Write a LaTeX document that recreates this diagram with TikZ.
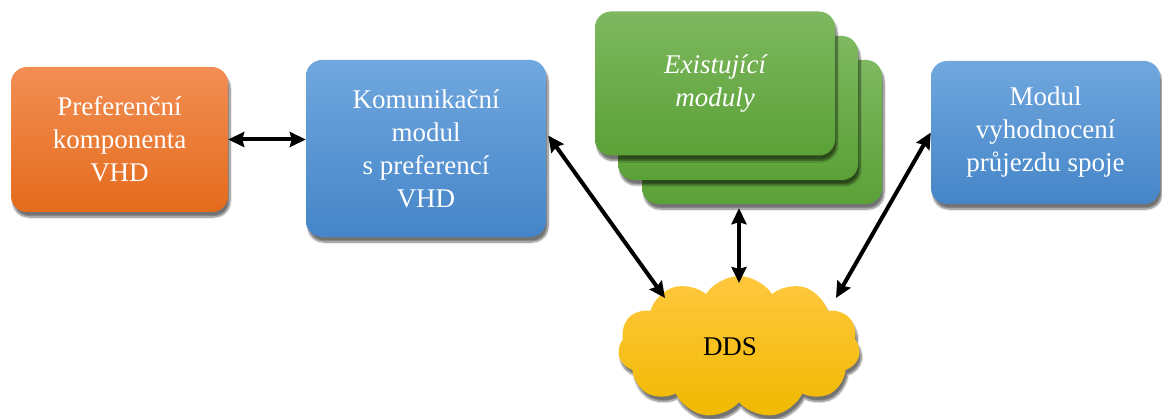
\documentclass[tikz,border=0pt]{standalone}
\usepackage{fontspec}
\setmainfont{Liberation Serif}
\usetikzlibrary{shapes.symbols,shadows.blur,arrows.meta}

\definecolor{orTop}{HTML}{F28E54}
\definecolor{orBot}{HTML}{E46B1C}
\definecolor{blTop}{HTML}{70A7DE}
\definecolor{blBot}{HTML}{4585C8}
\definecolor{grTop}{HTML}{7EB860}
\definecolor{grBot}{HTML}{5BA137}
\definecolor{ylTop}{HTML}{FFC83E}
\definecolor{ylBot}{HTML}{F0B900}

\begin{document}
\begin{tikzpicture}[x=1pt,y=-1pt,
  modbox/.style={rounded corners=16pt, inner sep=0pt, align=center,
    text=white, font=\fontsize{27}{33}\selectfont,
    blur shadow={shadow xshift=2pt, shadow yshift=-5pt, shadow blur steps=10, shadow opacity=55}},
  orangebox/.style={modbox, top color=orTop, bottom color=orBot},
  bluebox/.style={modbox, top color=blTop, bottom color=blBot},
  greenbox/.style={modbox, top color=grTop, bottom color=grBot, minimum width=240pt, minimum height=144pt},
  link/.style={line width=4pt, {Stealth[length=16pt,width=15pt,inset=2pt]}-{Stealth[length=16pt,width=15pt,inset=2pt]}}
]
\useasboundingbox (0,0) rectangle (1162,419);

% modules
\node[orangebox, minimum width=217pt, minimum height=145pt] (pref) at (119.5,139.5)
  {Preferenční\\komponenta\\VHD};
\node[bluebox, minimum width=240pt, minimum height=177pt] (kom) at (426,148.5)
  {Komunikační\\modul\\s preferencí\\VHD};
\node[bluebox, minimum width=229pt, minimum height=143pt] (mod) at (1045.5,132.5)
  {Modul\\vyhodnocení\\průjezdu spoje};

% stack of existing modules
\node[greenbox] (g3) at (762,132) {};
\node[greenbox] (g2) at (738,108) {};
\node[greenbox, font=\fontsize{27}{33}\selectfont\itshape] (g1) at (715,83.5) {Existující\\moduly};

% DDS cloud
\node[cloud, cloud puffs=11, cloud puff arc=115, aspect=1.7, inner sep=0pt,
  minimum width=242pt, minimum height=142pt,
  top color=ylTop, bottom color=ylBot,
  blur shadow={shadow xshift=2pt, shadow yshift=-5pt, shadow blur steps=10, shadow opacity=55}]
  (dds) at (739,347) {};
\node[font=\fontsize{27}{33}\selectfont, inner sep=0pt] (ddstext) at ([xshift=-9pt]dds.center) {DDS};

% connections
\draw[link] (pref.east) -- (pref.east -| kom.west);
\draw[link] ([shift={(2,-13)}]kom.east) -- ([shift={(-74,-49)}]dds.center);
\draw[link] ([yshift=-4pt]dds.center |- g3.south) -- ([shift={(0,-64)}]dds.center);
\draw[link] (mod.west) -- ([shift={(97,-49)}]dds.center);
\end{tikzpicture}
\end{document}
